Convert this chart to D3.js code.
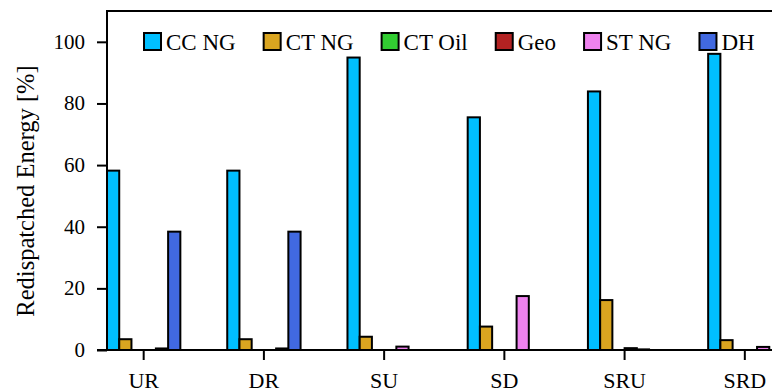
<!DOCTYPE html>
<html>
<head>
<meta charset="utf-8">
<script src="https://cdn.jsdelivr.net/npm/d3@7"></script>
</head>
<body style="margin:0">
<svg id="chart" width="772" height="392"></svg>
<script>
// valeurs
const scenarios = ['UR', 'DR', 'SU', 'SD', 'SRU', 'SRD'];
const series = ['CC NG', 'CT NG', 'CT Oil', 'Geo', 'ST NG', 'DH'];
const ccNG  = [58.2, 58.2, 94.9, 75.5, 83.9, 96.1];
const ctNG  = [3.5, 3.5, 4.3, 7.6, 16.2, 3.2];
const ctOil = [0, 0, 0, 0, 0, 0];
const geo   = [0, 0, 0, 0, 0.6, 0];
const stNG  = [0.5, 0.5, 1.1, 17.5, 0.2, 1.0];
const dh    = [38.4, 38.4, 0, 0, 0, 0];
const yTicks = [0, 20, 40, 60, 80, 100];
const colors = ['#00bfff', '#daa520', '#32cd32', '#b22222', '#ee82ee', '#4169e1'];

const values = [ccNG, ctNG, ctOil, geo, stNG, dh];
const rows = scenarios.map((s, i) => ({ s, v: values.map(arr => arr[i]) }));
const fam = () => 'Liberation Serif';

const svg = d3.select('#chart');
const plotLeft = 107, plotTop = 11, plotBottom = 350;

const x0 = d3.scaleBand().domain(scenarios).range([plotLeft, 781.5]).paddingInner(0.39).paddingOuter(0);
const x1 = d3.scaleBand().domain(series).range([0, x0.bandwidth()]);
const y = d3.scaleLinear().domain([0, 110]).range([plotBottom, plotTop]);
const color = d3.scaleOrdinal().domain(series).range(colors);

// barres
svg.append('g').selectAll('g')
  .data(rows)
  .join('g')
  .attr('transform', d => `translate(${x0(d.s)},0)`)
  .selectAll('rect')
  .data(d => d.v.map((v, k) => ({ k: series[k], v })))
  .join('rect')
  .attr('x', d => x1(d.k))
  .attr('y', d => y(d.v))
  .attr('width', x1.bandwidth())
  .attr('height', d => plotBottom - y(d.v))
  .attr('fill', d => color(d.k))
  .attr('stroke', '#000')
  .attr('stroke-width', 2);

// cadre
svg.append('path')
  .attr('d', `M${plotLeft},${plotBottom}V${plotTop}H800`)
  .attr('fill', 'none')
  .attr('stroke', '#000')
  .attr('stroke-width', 2);

// axes : lignes par d3, textes refaits en serif
const yAxis = svg.append('g')
  .attr('transform', `translate(${plotLeft},0)`)
  .call(d3.axisLeft(y).tickValues(yTicks).tickSize(10).tickFormat(''));
const xAxis = svg.append('g')
  .attr('transform', `translate(0,${plotBottom})`)
  .call(d3.axisBottom(x0).tickSize(10).tickFormat(''));

[yAxis, xAxis].forEach(a => {
  a.selectAll('.tick line').attr('stroke-width', 2);
  a.selectAll('.tick text').remove();
});
yAxis.select('.domain').remove();
xAxis.select('.domain').attr('stroke-width', 2).attr('d', `M${plotLeft - 10},0H800`);

svg.selectAll('.ylab')
  .data(yTicks)
  .join('text')
  .attr('class', 'ylab')
  .attr('x', plotLeft - 22)
  .attr('y', d => y(d) + 7)
  .attr('text-anchor', 'end')
  .attr('font-size', 21)
  .attr('font-family', fam)
  .text(d => d);

svg.selectAll('.xlab')
  .data(scenarios)
  .join('text')
  .attr('class', 'xlab')
  .attr('x', d => x0(d) + x0.bandwidth() / 2)
  .attr('y', plotBottom + 38)
  .attr('text-anchor', 'middle')
  .attr('font-size', 22)
  .attr('font-family', fam)
  .text(d => d);

svg.selectAll('.ytitle')
  .data(['Redispatched Energy [%]'])
  .join('text')
  .attr('class', 'ytitle')
  .attr('transform', 'translate(34,191) rotate(-90)')
  .attr('text-anchor', 'middle')
  .attr('font-size', 24.5)
  .attr('font-family', fam)
  .text(d => d);

// légende
const swatches = svg.selectAll('.sw')
  .data(series)
  .join('rect')
  .attr('class', 'sw')
  .attr('y', 33).attr('width', 17).attr('height', 17)
  .attr('fill', d => color(d)).attr('stroke', '#000').attr('stroke-width', 2);

const labels = svg.selectAll('.lg')
  .data(series)
  .join('text')
  .attr('class', 'lg')
  .attr('y', 50)
  .attr('font-size', 23)
  .attr('font-family', fam)
  .text(d => d);

let lx = 143;
labels.each(function (d, i) {
  d3.select(swatches.nodes()[i]).attr('x', lx + 1);
  d3.select(this).attr('x', lx + 23);
  lx += 23 + this.getComputedTextLength() + 27;
});
</script>
</body>
</html>
